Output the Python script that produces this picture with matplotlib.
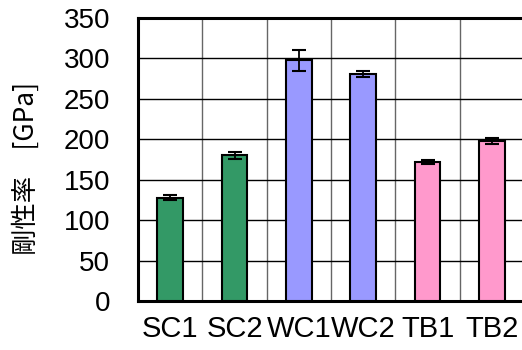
import matplotlib.pyplot as plt

plt.rcParams['font.family'] = ['Liberation Sans', 'Noto Sans CJK JP', 'DejaVu Sans']

samples = ["SC1", "SC2", "WC1", "WC2", "TB1", "TB2"]
modulus = [128, 180, 298, 281, 172, 198]
errors = [2.5, 4.5, 13, 4, 2, 4]
colors = ["#339966", "#339966", "#9999FF", "#9999FF", "#FF99CC", "#FF99CC"]

fig = plt.figure(figsize=(5.22, 3.5), dpi=100)
ax = fig.add_axes([138 / 522, 49 / 350, 386 / 522, 283 / 350])

x = range(len(samples))
ax.bar(x, modulus, width=0.4, color=colors, edgecolor="black", linewidth=1.5, zorder=3,
       yerr=errors, error_kw=dict(ecolor="black", elinewidth=1.3, capsize=5, capthick=1.5))

ax.set_xlim(-0.5, 5.5)
ax.set_ylim(0, 350)
ax.set_yticks(range(0, 351, 50))
ax.set_xticks(list(x))
ax.set_xticklabels(samples)

# grid: horizontal black, vertical at category boundaries in gray
ax.yaxis.grid(True, color="black", linewidth=1.0, zorder=0)
for b in [0.5, 1.5, 2.5, 3.5, 4.5]:
    ax.axvline(b, color="#666666", linewidth=1.0, zorder=0)

for s in ["left", "bottom", "top"]:
    ax.spines[s].set_linewidth(2.2)
ax.spines["right"].set_visible(False)

ax.tick_params(axis="y", length=0, pad=20, labelsize=20)
ax.tick_params(axis="x", length=0, pad=10, labelsize=21)

ax.set_ylabel("剛性率\u3000[GPa]", fontsize=19,
              family=['Noto Sans CJK JP', 'DejaVu Sans'])
ax.yaxis.set_label_coords(-0.255, 0.47)

fig.savefig("out.png", dpi=100)
